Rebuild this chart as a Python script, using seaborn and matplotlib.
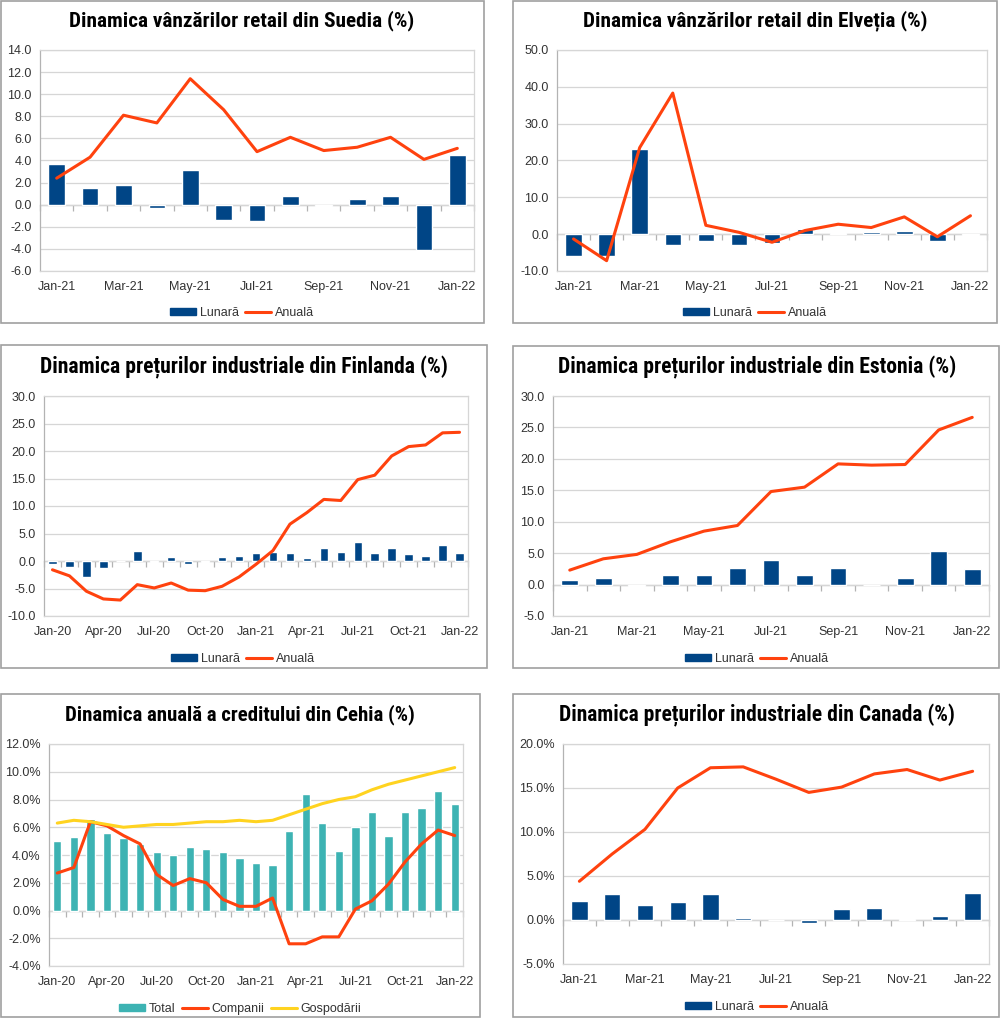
import numpy as np
import pandas as pd
import matplotlib
matplotlib.use("Agg")
import matplotlib.pyplot as plt
import seaborn as sns
from matplotlib import font_manager
from matplotlib.patches import Rectangle, Patch
from matplotlib.lines import Line2D

sns.set_theme(style="white")
plt.rcParams["font.family"] = ["Liberation Sans", "DejaVu Sans"]

# ---- date ----
luni_21 = ["Jan-21", "Feb-21", "Mar-21", "Apr-21", "May-21", "Jun-21", "Jul-21",
           "Aug-21", "Sep-21", "Oct-21", "Nov-21", "Dec-21", "Jan-22"]
luni_20 = ["Jan-20", "Feb-20", "Mar-20", "Apr-20", "May-20", "Jun-20", "Jul-20",
           "Aug-20", "Sep-20", "Oct-20", "Nov-20", "Dec-20"] + luni_21

suedia_lunara = [3.7, 1.5, 1.8, -0.3, 3.1, -1.4, -1.5, 0.8, -0.1, 0.5, 0.8, -4.1, 4.5]
suedia_anuala = [2.4, 4.3, 8.1, 7.4, 11.4, 8.6, 4.8, 6.1, 4.9, 5.2, 6.1, 4.1, 5.1]

elvetia_lunara = [-5.8, -6.0, 23.0, -3.0, -1.8, -2.9, -2.5, 1.5, 0.3, 0.5, 0.8, -1.8, -0.3]
elvetia_anuala = [-1.3, -7.2, 23.5, 38.3, 2.4, 0.5, -2.2, 1.0, 2.7, 1.8, 4.7, -0.7, 5.0]

finlanda_lunara = [-0.6, -1.0, -2.9, -1.3, 0.0, 1.8, -0.1, 0.8, -0.6, -0.2, 0.7, 1.0,
                   1.4, 1.7, 1.4, 0.5, 2.3, 1.6, 3.4, 1.4, 2.3, 1.2, 0.9, 2.9, 1.5]
finlanda_anuala = [-1.6, -2.7, -5.5, -6.9, -7.1, -4.3, -4.9, -4.0, -5.3, -5.4, -4.6, -2.9,
                   -0.6, 1.9, 6.7, 8.8, 11.2, 11.0, 14.8, 15.6, 19.1, 20.8, 21.1, 23.3, 23.4]

estonia_lunara = [0.8, 1.1, -0.2, 1.6, 1.6, 2.6, 3.9, 1.6, 2.7, -0.1, 1.1, 5.3, 2.4]
estonia_anuala = [2.3, 4.1, 4.8, 6.8, 8.5, 9.4, 14.8, 15.5, 19.2, 19.0, 19.1, 24.6, 26.6]

cehia_total = [5.0, 5.3, 6.6, 5.6, 5.2, 4.8, 4.2, 4.0, 4.6, 4.4, 4.2, 3.8,
               3.4, 3.3, 5.7, 8.4, 6.3, 4.3, 6.0, 7.1, 5.4, 7.1, 7.4, 8.6, 7.7]
cehia_companii = [2.7, 3.1, 6.4, 6.1, 5.4, 4.8, 2.6, 1.8, 2.3, 2.0, 0.8, 0.3,
                  0.3, 0.9, -2.4, -2.4, -1.9, -1.9, 0.1, 0.7, 1.9, 3.5, 4.8, 5.8, 5.4]
cehia_gospodarii = [6.3, 6.5, 6.4, 6.2, 6.0, 6.1, 6.2, 6.2, 6.3, 6.4, 6.4, 6.5,
                    6.4, 6.5, 6.9, 7.3, 7.7, 8.0, 8.2, 8.7, 9.1, 9.4, 9.7, 10.0, 10.3]

canada_lunara = [2.2, 3.0, 1.7, 2.1, 3.0, 0.2, 0.0, -0.3, 1.2, 1.4, 0.1, 0.5, 3.1]
canada_anuala = [4.4, 7.5, 10.3, 15.0, 17.3, 17.4, 16.0, 14.5, 15.1, 16.6, 17.1, 15.9, 16.9]

BLUE = "#004586"
ORANGE = "#ff420e"
YELLOW = "#ffd320"
TEAL = "#3db3b3"
GRID = "#d6d6d6"
AXIS = "#b3b3b3"
TXT = "#333333"
FRAME = "#a0a0a0"

# font ingust pentru titluri, daca exista
installed = {f.name for f in font_manager.fontManager.ttflist}
TITLE_FONT = "DejaVu Sans"
for cand in ["Roboto Condensed", "Open Sans Condensed", "Liberation Sans Narrow",
             "DejaVu Sans Condensed", "Arial Narrow", "Noto Sans Display", "Roboto"]:
    if cand in installed:
        TITLE_FONT = cand
        break

W, H = 1000, 1019
fig = plt.figure(figsize=(10, 10.19), dpi=100)
fig.patch.set_facecolor("white")
renderer = fig.canvas.get_renderer()


def fbox(l, t, r, b):
    return [l / W, 1 - b / H, (r - l) / W, (b - t) / H]


def panel(ax_px, frame_px, title, title_xy, title_w, months, bars, lines, ylim, step, fmt,
          every, legend_xy, bar_color=BLUE, bar_name="Lunară"):
    l, t, r, b = frame_px
    fig.add_artist(Rectangle((l / W, 1 - b / H), (r - l) / W, (b - t) / H,
                             transform=fig.transFigure, fill=False, ec=FRAME, lw=1.2))
    ax = fig.add_axes(fbox(*ax_px))
    n = len(months)
    df = pd.DataFrame({"luna": months, "val": bars})
    sns.barplot(data=df, x="luna", y="val", color=bar_color, width=0.5,
                saturation=1, ax=ax)
    x = np.arange(n)
    for name, vals, col in lines:
        sns.lineplot(x=x, y=vals, color=col, lw=2.2, ax=ax)
    ax.set_xlim(-0.5, n - 0.5)
    ax.set_ylim(*ylim)
    yt = np.arange(ylim[0], ylim[1] + step / 2, step)
    ax.set_yticks(yt)
    ax.set_yticklabels([fmt.format(v) for v in yt])
    ax.set_xticks(x[::every])
    ax.set_xticklabels(months[::every])
    ax.set_xlabel("")
    ax.set_ylabel("")
    ax.yaxis.grid(True, color=GRID, lw=0.9)
    ax.set_axisbelow(True)
    for s in ax.spines.values():
        s.set_color(GRID)
        s.set_linewidth(0.9)
    ax.spines["left"].set_color(AXIS)
    ax.tick_params(axis="y", length=4, color=AXIS, labelsize=9, labelcolor=TXT, pad=2)
    ax.tick_params(axis="x", length=0, labelsize=9, labelcolor=TXT, pad=7)
    # linia de zero cu gradatii intre categorii
    frac = (0 - ylim[0]) / (ylim[1] - ylim[0])
    sec = ax.secondary_xaxis(frac)
    sec.set_xticks(np.arange(n + 1) - 0.5)
    sec.set_xticklabels([])
    sec.tick_params(length=4, color=AXIS, width=0.9)
    sec.spines["bottom"].set_color(AXIS)
    sec.spines["bottom"].set_linewidth(0.9)

    txt = fig.text(title_xy[0] / W, 1 - title_xy[1] / H, title, ha="center", va="center",
                   fontsize=16, fontweight="bold", color="black",
                   family=[TITLE_FONT, "DejaVu Sans"])
    w = txt.get_window_extent(renderer).width
    txt.set_fontsize(min(17, 16 * title_w / w))

    handles = [Patch(color=bar_color, label=bar_name)]
    handles += [Line2D([], [], color=c, lw=2.2, label=nm) for nm, v, c in lines]
    fig.legend(handles=handles, loc="center", ncol=len(handles), frameon=False,
               bbox_to_anchor=(legend_xy[0] / W, 1 - legend_xy[1] / H),
               fontsize=9, labelcolor=TXT, handlelength=2.1, handleheight=0.55,
               handletextpad=0.3, columnspacing=0.5)
    return ax


panel((40, 50, 474, 271), (1, 1, 484, 323), "Dinamica vânzărilor retail din Suedia (%)",
      (242, 21), 345, luni_21, suedia_lunara, [("Anuală", suedia_anuala, ORANGE)],
      (-6, 14), 2, "{:.1f}", 2, (242, 313))

panel((557, 50, 987, 271), (513, 1, 997, 323), "Dinamica vânzărilor retail din Elveția (%)",
      (755, 21), 345, luni_21, elvetia_lunara, [("Anuală", elvetia_anuala, ORANGE)],
      (-10, 50), 10, "{:.1f}", 2, (755, 313))

panel((44, 396, 468, 616), (1, 345, 487, 668), "Dinamica prețurilor industriale din Finlanda (%)",
      (244, 367), 408, luni_20, finlanda_lunara, [("Anuală", finlanda_anuala, ORANGE)],
      (-10, 30), 5, "{:.1f}", 3, (243, 659))

panel((553, 396, 989, 616), (513, 346, 999, 668), "Dinamica prețurilor industriale din Estonia (%)",
      (757, 367), 397, luni_21, estonia_lunara, [("Anuală", estonia_anuala, ORANGE)],
      (-5, 30), 5, "{:.1f}", 2, (757, 659))

panel((49, 744, 463, 966), (1, 694, 480, 1017), "Dinamica anuală a creditului din Cehia (%)",
      (240, 715), 351, luni_20, cehia_total,
      [("Companii", cehia_companii, ORANGE), ("Gospodării", cehia_gospodarii, YELLOW)],
      (-4, 12), 2, "{:.1f}%", 3, (240, 1009), bar_color=TEAL, bar_name="Total")

panel((563, 744, 989, 964), (513, 694, 999, 1017), "Dinamica prețurilor industriale din Canada (%)",
      (757, 715), 396, luni_21, canada_lunara, [("Anuală", canada_anuala, ORANGE)],
      (-5, 20), 5, "{:.1f}%", 2, (757, 1007))

fig.savefig("out.png", dpi=100, facecolor="white")
